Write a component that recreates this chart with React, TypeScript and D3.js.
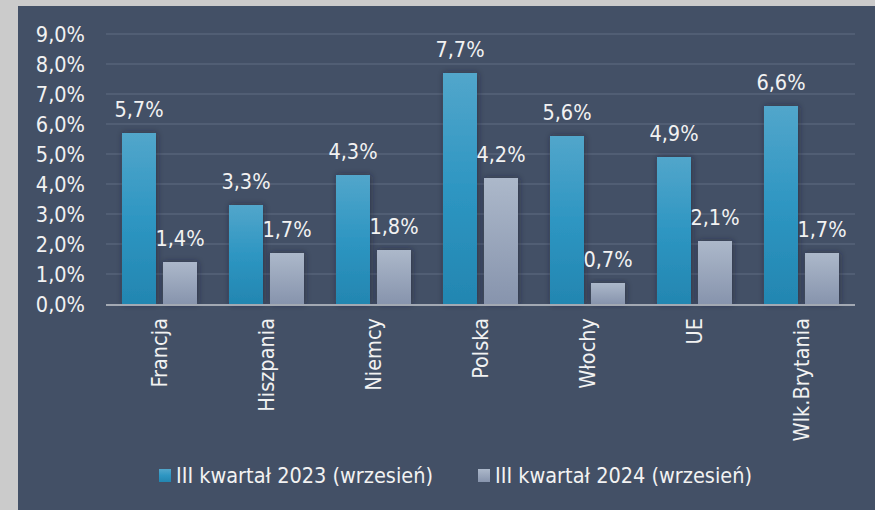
import React from "react";
import * as d3 from "d3";

const categories = ["Francja", "Hiszpania", "Niemcy", "Polska", "Włochy", "UE", "Wlk.Brytania"];
const seriesNames = ["III kwartał 2023 (wrzesień)", "III kwartał 2024 (wrzesień)"];
const values2023 = [5.7, 3.3, 4.3, 7.7, 5.6, 4.9, 6.6];
const values2024 = [1.4, 1.7, 1.8, 4.2, 0.7, 2.1, 1.7];
const yTicks = [0, 1, 2, 3, 4, 5, 6, 7, 8, 9];

const W = 875;
const H = 510;
const FONT = "'DejaVu Sans Condensed', Tahoma, 'DejaVu Sans', sans-serif";
const fmt = (v: number) => v.toFixed(1).replace(".", ",") + "%";

export default function App() {
  const x0 = d3.scaleBand<string>().domain(categories).range([106, 855]).padding(0);
  const x1 = d3.scaleBand<string>().domain(["a", "b"]).range([16, 91]).paddingInner(0.171).paddingOuter(0);
  const y = d3.scaleLinear().domain([0, 9]).range([304, 34]);
  const series = [
    { key: "a", name: seriesNames[0], values: values2023, fill: "url(#gBlue)" },
    { key: "b", name: seriesNames[1], values: values2024, fill: "url(#gGray)" },
  ];
  const textColor = "#f2f2f2";
  return (
    <svg width={W} height={H} style={{ position: "absolute", left: 0, top: 0 }} fontFamily={FONT}>
      <defs>
        <linearGradient id="gBlue" x1="0" y1="0" x2="0" y2="1">
          <stop offset="0" stopColor="#52a6cb" />
          <stop offset="0.5" stopColor="#2e96c2" />
          <stop offset="1" stopColor="#2386b1" />
        </linearGradient>
        <linearGradient id="gGray" x1="0" y1="0" x2="0" y2="1">
          <stop offset="0" stopColor="#acb8ca" />
          <stop offset="1" stopColor="#8794ad" />
        </linearGradient>
        <filter id="shadow" x="-50%" y="-20%" width="200%" height="140%">
          <feDropShadow dx="1" dy="0" stdDeviation="3" floodColor="#1a2232" floodOpacity="0.55" />
        </filter>
      </defs>
      <rect x={0} y={0} width={W} height={H} fill="#cbcbcb" />
      <rect x={18} y={6} width={W - 18} height={H - 6} fill="#435066" />
      {yTicks.filter((t) => t > 0).map((t) => (
        <line key={t} x1={106} x2={855} y1={y(t)} y2={y(t)} stroke="#56637a" strokeWidth={1.5} />
      ))}
      {yTicks.map((t) => (
        <text key={"t" + t} x={85} y={y(t)} dy="0.36em" textAnchor="end" fontSize={21.5} fill={textColor}>
          {fmt(t)}
        </text>
      ))}
      {categories.map((c, i) => (
        <g key={c} transform={`translate(${x0(c)},0)`}>
          {series.map((s) => (
            <rect
              key={s.key}
              x={x1(s.key)}
              y={y(s.values[i])}
              width={x1.bandwidth()}
              height={y(0) - y(s.values[i])}
              fill={s.fill}
              filter="url(#shadow)"
            />
          ))}
        </g>
      ))}
      <line x1={106} x2={855} y1={y(0) + 1} y2={y(0) + 1} stroke="#a3a9b3" strokeWidth={2} />
      {categories.map((c, i) => (
        <g key={"l" + c} transform={`translate(${x0(c)},0)`}>
          {series.map((s) => (
            <text
              key={s.key}
              x={(x1(s.key) as number) + x1.bandwidth() / 2}
              y={y(s.values[i]) - 16}
              textAnchor="middle"
              fontSize={21.5}
              fill={textColor}
            >
              {fmt(s.values[i])}
            </text>
          ))}
        </g>
      ))}
      {categories.map((c) => (
        <text
          key={"c" + c}
          transform={`translate(${(x0(c) as number) + x0.bandwidth() / 2 + 7},318) rotate(-90)`}
          textAnchor="end"
          fontSize={21.5}
          fill={textColor}
        >
          {c}
        </text>
      ))}
      {series.map((s, i) => {
        const lx = i === 0 ? 159 : 478;
        return (
          <g key={"leg" + s.key}>
            <rect x={lx} y={469} width={12} height={13} fill={s.fill} />
            <text x={lx + 17} y={483} fontSize={21.5} fill={textColor}>
              {s.name}
            </text>
          </g>
        );
      })}
    </svg>
  );
}
